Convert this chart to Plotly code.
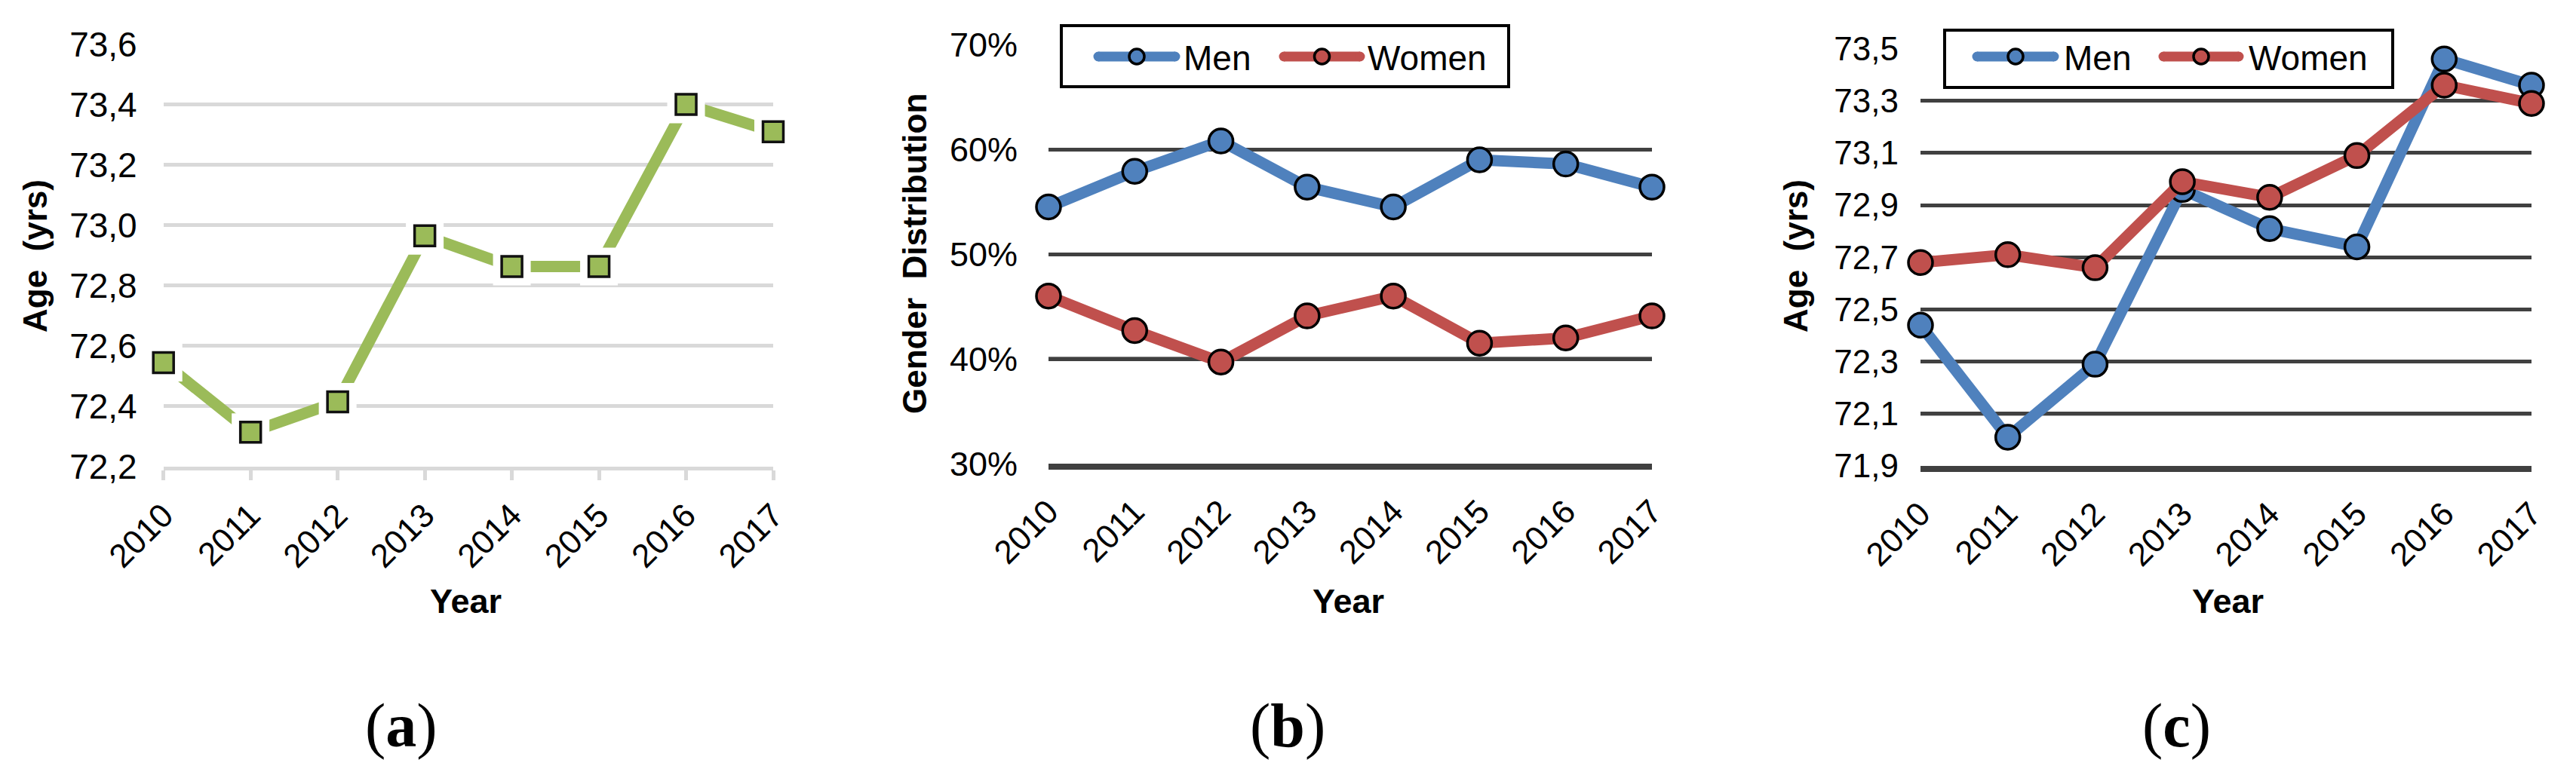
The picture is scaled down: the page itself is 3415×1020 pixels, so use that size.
import plotly.graph_objects as go

# ---------------- data ----------------
years = [2010, 2011, 2012, 2013, 2014, 2015, 2016, 2017]
year_labels = [str(y) for y in years]
age_all = [72.545, 72.314, 72.415, 72.965, 72.863, 72.863, 73.40, 73.31]
share_men = [0.545, 0.579, 0.608, 0.564, 0.545, 0.590, 0.586, 0.564]
share_women = [0.460, 0.427, 0.397, 0.441, 0.460, 0.415, 0.420, 0.441]
age_men = [72.44, 72.01, 72.29, 72.96, 72.81, 72.74, 73.46, 73.36]
age_women = [72.68, 72.71, 72.66, 72.99, 72.93, 73.09, 73.36, 73.29]
series_names = ["Men", "Women"]
panel_labels = ["a", "b", "c"]

W, H = 3415, 1020
GREEN = "#9BBB59"
BLUE = "#4F81BD"
RED = "#C0504D"
FONT = "Liberation Sans, Arial, sans-serif"

def px(x):
    return x / W

def py(y):
    return 1 - y / H

fig = go.Figure()

# ---------- panel a ----------
fig.add_trace(go.Scatter(x=years, y=age_all, mode="lines",
                         line=dict(color=GREEN, width=15),
                         xaxis="x", yaxis="y", showlegend=False, cliponaxis=False))
fig.add_trace(go.Scatter(x=years, y=age_all, mode="markers",
                         marker=dict(symbol="square", size=50, color="white", line=dict(width=0)),
                         xaxis="x", yaxis="y", showlegend=False, cliponaxis=False))
fig.add_trace(go.Scatter(x=years, y=age_all, mode="markers",
                         marker=dict(symbol="square", size=27, color=GREEN,
                                     line=dict(color="#111111", width=3.5)),
                         xaxis="x", yaxis="y", showlegend=False, cliponaxis=False))

# ---------- panel b ----------
for vals, col, name in [(share_men, BLUE, series_names[0]), (share_women, RED, series_names[1])]:
    fig.add_trace(go.Scatter(x=years, y=vals, mode="lines+markers", name=name,
                             line=dict(color=col, width=15),
                             marker=dict(symbol="circle", size=32, color=col,
                                         line=dict(color="black", width=3.5)),
                             xaxis="x2", yaxis="y2", showlegend=False, cliponaxis=False))

# ---------- panel c ----------
for vals, col, name in [(age_men, BLUE, series_names[0]), (age_women, RED, series_names[1])]:
    fig.add_trace(go.Scatter(x=years, y=vals, mode="lines+markers", name=name,
                             line=dict(color=col, width=15),
                             marker=dict(symbol="circle", size=32, color=col,
                                         line=dict(color="black", width=3.5)),
                             xaxis="x3", yaxis="y3", showlegend=False, cliponaxis=False))

xtickfont = dict(family=FONT, size=44, color="black")

def xaxis_common(domain, anchor, **kw):
    d = dict(domain=domain, anchor=anchor, range=[2010, 2017], tickmode="array",
             tickvals=years, ticktext=year_labels, tickangle=-45, showgrid=False,
             zeroline=False, tickfont=xtickfont)
    d.update(kw)
    return d

fig.update_layout(
    width=W, height=H, margin=dict(l=0, r=0, t=0, b=0, autoexpand=False),
    paper_bgcolor="white", plot_bgcolor="white",
    separators=",.",
    showlegend=False,
    xaxis=xaxis_common([px(216.7), px(1025)], "y", showline=True, linecolor="#D9D9D9",
                       linewidth=5, ticks="outside", ticklen=13, tickwidth=5,
                       tickcolor="#D9D9D9", ticklabelstandoff=3),
    yaxis=dict(domain=[py(619), py(58.5)], anchor="x", range=[72.2, 73.6001], tick0=72.2,
               dtick=0.2, tickformat=".1f", showgrid=True, gridcolor="#D9D9D9", gridwidth=5,
               zeroline=False, showline=False, ticks="",
               tickfont=dict(family=FONT, size=46, color="black"),
               ticklabelstandoff=34),
    xaxis2=xaxis_common([px(1390), px(2190)], "y2", showline=True, linecolor="#404040",
                        linewidth=8, ticks="", ticklabelstandoff=12),
    yaxis2=dict(domain=[py(615), py(59)], anchor="x2", range=[0.30, 0.7001], tick0=0.3,
                dtick=0.1, tickformat=".0%", showgrid=True, gridcolor="#404040", gridwidth=5,
                zeroline=False, showline=False, ticks="",
                tickfont=dict(family=FONT, size=45, color="black"),
                ticklabelstandoff=40),
    xaxis3=xaxis_common([px(2546), px(3356)], "y3", showline=True, linecolor="#404040",
                        linewidth=8, ticks="", ticklabelstandoff=12),
    yaxis3=dict(domain=[py(618), py(64.5)], anchor="x3", range=[71.9, 73.5001], tick0=71.9,
                dtick=0.2, tickformat=".1f", showgrid=True, gridcolor="#404040", gridwidth=5,
                zeroline=False, showline=False, ticks="",
                tickfont=dict(family=FONT, size=44, color="black"),
                ticklabelstandoff=28),
)

annotations = []
shapes = []

# axis titles
ytitle_font = dict(family=FONT, size=44, color="black")
for (x, y, text) in [(47, 340, "<b>Age\u00a0 (yrs)</b>"),
                     (1213, 337, "<b>Gender\u00a0 Distribution</b>"),
                     (2381, 340, "<b>Age\u00a0 (yrs)</b>")]:
    annotations.append(dict(x=px(x), y=py(y), xref="paper", yref="paper", text=text,
                            textangle=-90, showarrow=False, xanchor="center", yanchor="middle",
                            font=ytitle_font))
for x in [617, 1787, 2953]:
    annotations.append(dict(x=px(x), y=py(797), xref="paper", yref="paper", text="<b>Year</b>",
                            showarrow=False, xanchor="center", yanchor="middle",
                            font=dict(family=FONT, size=45, color="black")))
for x, lab in zip([532, 1707, 2885], panel_labels):
    annotations.append(dict(x=px(x), y=py(962), xref="paper", yref="paper",
                            text="(<b>%s</b>)" % lab, showarrow=False, xanchor="center",
                            yanchor="middle",
                            font=dict(family="Liberation Serif, Times New Roman, serif",
                                      size=82, color="black")))

# one gridline rendered black in b and c (as in the original image)
shapes.append(dict(type="line", xref="x2 domain", yref="y2", x0=0, x1=1, y0=0.40, y1=0.40,
                   line=dict(color="black", width=5), layer="below"))
shapes.append(dict(type="line", xref="x3 domain", yref="y3", x0=0, x1=1, y0=72.1, y1=72.1,
                   line=dict(color="black", width=5), layer="below"))

# custom legends (boxes + samples)
def legend(box, items, yc):
    x0, y0, x1, y1 = box
    shapes.append(dict(type="rect", xref="paper", yref="paper", x0=px(x0), x1=px(x1),
                       y0=py(y1), y1=py(y0), line=dict(color="black", width=4),
                       fillcolor="white", layer="above"))
    for (lx0, lx1, tx, col, name) in items:
        shapes.append(dict(type="line", xref="paper", yref="paper", x0=px(lx0), x1=px(lx1),
                           y0=py(yc), y1=py(yc), line=dict(color=col, width=13), layer="above"))
        for ex in (lx0, lx1):
            shapes.append(dict(type="circle", xref="paper", yref="paper", xsizemode="pixel",
                               ysizemode="pixel", xanchor=px(ex), yanchor=py(yc),
                               x0=-6.5, x1=6.5, y0=-6.5, y1=6.5, fillcolor=col,
                               line=dict(width=0), layer="above"))
        mx = (lx0 + lx1) / 2
        shapes.append(dict(type="circle", xref="paper", yref="paper", xsizemode="pixel",
                           ysizemode="pixel", xanchor=px(mx), yanchor=py(yc),
                           x0=-10, x1=10, y0=-10, y1=10, fillcolor=col,
                           line=dict(color="black", width=3.5), layer="above"))
        annotations.append(dict(x=px(tx), y=py(yc + 2), xref="paper", yref="paper", text=name,
                                showarrow=False, xanchor="left", yanchor="middle",
                                font=dict(family=FONT, size=46, color="black")))

legend((1407, 34, 2000, 115),
       [(1456, 1558, 1567, BLUE, series_names[0]),
        (1702, 1803, 1811, RED, series_names[1])], 75)
legend((2578, 40, 3172, 116),
       [(2621, 2723, 2734, BLUE, series_names[0]),
        (2868, 2968, 2979, RED, series_names[1])], 75)

fig.update_layout(annotations=annotations, shapes=shapes)
fig.write_html("out.html",
               config={"displayModeBar": False, "staticPlot": True},
               post_script="document.body.style.margin='0';document.body.style.overflow='hidden';")
